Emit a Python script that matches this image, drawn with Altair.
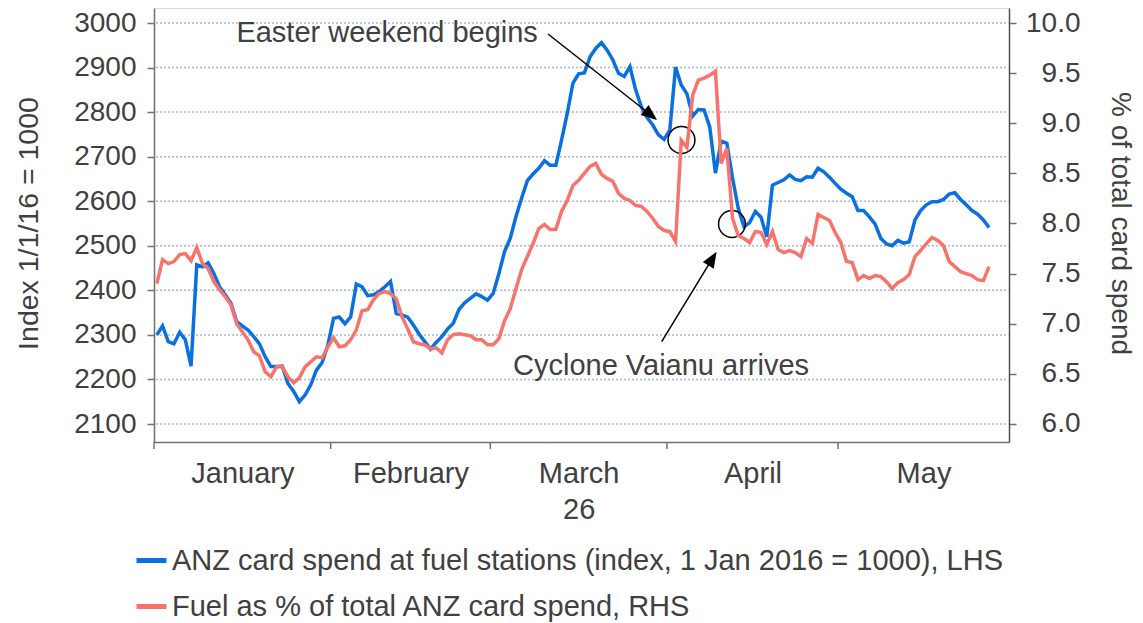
import altair as alt
import pandas as pd

# ---------------- data ----------------
anz_index = [2300, 2320, 2285, 2280, 2306, 2289, 2230, 2457, 2453, 2462,
             2438, 2408, 2390, 2371, 2330, 2320, 2311, 2296, 2280, 2251,
             2229, 2229, 2230, 2191, 2173, 2150, 2165, 2188, 2221, 2238,
             2277, 2337, 2340, 2325, 2340, 2414, 2408, 2388, 2390, 2397,
             2408, 2420, 2348, 2345, 2340, 2322, 2302, 2285, 2268, 2283,
             2296, 2313, 2326, 2357, 2372, 2382, 2392, 2386, 2378, 2393,
             2437, 2487, 2517, 2565, 2607, 2646, 2661, 2674, 2691, 2681,
             2681, 2737, 2797, 2865, 2886, 2888, 2924, 2943, 2956, 2939,
             2917, 2887, 2880, 2902, 2850, 2812, 2788, 2771, 2749, 2739,
             2760, 2901, 2861, 2841, 2791, 2806, 2805, 2767, 2663, 2735,
             2730, 2652, 2584, 2543, 2552, 2577, 2564, 2520, 2636, 2642,
             2648, 2659, 2649, 2646, 2655, 2654, 2674, 2666, 2654, 2640,
             2627, 2618, 2610, 2579, 2579, 2565, 2549, 2517, 2504, 2500,
             2512, 2506, 2509, 2558, 2579, 2592, 2599, 2599, 2604, 2616,
             2619, 2604, 2592, 2579, 2571, 2558, 2541]

fuel_share = [7.40, 7.64, 7.60, 7.62, 7.69, 7.70, 7.63, 7.76, 7.60, 7.55,
              7.42, 7.34, 7.27, 7.19, 7.00, 6.92, 6.84, 6.72, 6.68, 6.52,
              6.47, 6.57, 6.57, 6.47, 6.41, 6.46, 6.57, 6.62, 6.67, 6.66,
              6.77, 6.86, 6.77, 6.78, 6.84, 6.94, 7.13, 7.14, 7.24, 7.30,
              7.32, 7.30, 7.25, 7.07, 6.95, 6.82, 6.80, 6.79, 6.75, 6.76,
              6.71, 6.84, 6.89, 6.90, 6.89, 6.88, 6.84, 6.84, 6.79, 6.79,
              6.85, 7.03, 7.15, 7.35, 7.54, 7.67, 7.80, 7.95, 7.99, 7.94,
              7.94, 8.12, 8.23, 8.38, 8.43, 8.50, 8.57, 8.60, 8.49, 8.45,
              8.42, 8.30, 8.25, 8.23, 8.18, 8.17, 8.12, 8.05, 7.97, 7.93,
              7.92, 7.82, 8.83, 8.76, 9.28, 9.43, 9.45, 9.48, 9.52, 8.60,
              8.75, 8.05, 7.88, 7.85, 7.81, 7.92, 7.91, 7.79, 7.92, 7.74,
              7.71, 7.73, 7.71, 7.67, 7.85, 7.80, 8.09, 8.06, 8.03, 7.91,
              7.81, 7.62, 7.61, 7.44, 7.48, 7.45, 7.48, 7.47, 7.42, 7.35,
              7.41, 7.44, 7.49, 7.67, 7.73, 7.80, 7.86, 7.83, 7.78, 7.62,
              7.57, 7.52, 7.50, 7.48, 7.44, 7.43, 7.57]

series_names = ["ANZ card spend at fuel stations (index, 1 Jan 2016 = 1000), LHS",
                "Fuel as % of total ANZ card spend, RHS"]

left_ticks = [2100, 2200, 2300, 2400, 2500, 2600, 2700, 2800, 2900, 3000]
right_ticks = [6.0, 6.5, 7.0, 7.5, 8.0, 8.5, 9.0, 9.5, 10.0]

month_starts = ["2026-01-01T00:00:00", "2026-02-01T00:00:00", "2026-03-01T00:00:00",
                "2026-04-01T00:00:00", "2026-05-01T00:00:00"]

annot_labels = ["Easter weekend begins", "Cyclone Vaianu arrives"]
annot_dates = ["2026-02-10T21:36:00", "2026-03-30T22:48:00"]
annot_values = [2977.6, 2230.2]

arrow_start_dates = ["2026-03-11T03:00:00", "2026-03-31T01:40:00"]
arrow_start_values = [2975.3, 2284.7]
arrow_end_dates = ["2026-03-29T04:00:00", "2026-04-08T23:30:00"]
arrow_end_values = [2793.5, 2471.5]

circle_dates = ["2026-04-03T13:00:00", "2026-04-12T09:36:00"]
circle_values = [2737.4, 2548.9]

# ---------------- tables ----------------
n = len(anz_index)
dates = pd.date_range("2026-01-01 12:00", periods=n, freq="D")
df = pd.DataFrame({
    "date": list(dates) + list(dates),
    "value": anz_index + fuel_share,
    "series": [series_names[0]] * n + [series_names[1]] * n,
})
grid_df = pd.DataFrame({"value": left_ticks})
ticks_df = pd.DataFrame({"date": month_starts})
text_df = pd.DataFrame({"date": annot_dates, "value": annot_values, "label": annot_labels})
arrow_df = pd.DataFrame({"date": arrow_start_dates, "value": arrow_start_values,
                         "date2": arrow_end_dates, "value2": arrow_end_values})
head1_df = pd.DataFrame({"date": [arrow_end_dates[0]], "value": [arrow_end_values[0]]})
head2_df = pd.DataFrame({"date": [arrow_end_dates[1]], "value": [arrow_end_values[1]]})
circle_df = pd.DataFrame({"date": circle_dates, "value": circle_values})

# ---------------- styling ----------------
W, H = 855, 434
FONT = "Liberation Sans"
TXT = "#404040"
AX = "#707070"
BLUE = "#0a70e0"
RED = "#f8736b"
GRID = "#a9bccb"
ARROW_SHAPE = "M0,-1L0.8,1L-0.8,1Z"

x_scale = alt.Scale(domain=[alt.DateTime(year=2026, month=1, date=1),
                            alt.DateTime(year=2026, month=5, date=31)])
left_scale = alt.Scale(domain=[2059.6, 3033.7], nice=False, zero=False)
right_scale = alt.Scale(domain=[5.82, 10.15], nice=False, zero=False)

month_label_values = [alt.DateTime(year=2026, month=1, date=16, hours=12),
                      alt.DateTime(year=2026, month=2, date=15),
                      alt.DateTime(year=2026, month=3, date=16, hours=12),
                      alt.DateTime(year=2026, month=4, date=16),
                      alt.DateTime(year=2026, month=5, date=16)]

x_axis = alt.Axis(values=month_label_values, title=None, grid=False, ticks=False, tickSize=0,
                  labelExpr="month(datum.value) == 2 ? ['March', '26'] : timeFormat(datum.value, '%B')",
                  labelFontSize=29, labelPadding=17, labelLineHeight=36, labelColor=TXT,
                  labelAngle=0, labelFlush=False, labelOverlap=False, labelBaseline="top",
                  domainColor=AX, domainWidth=1.5)

left_axis = alt.Axis(title="Index 1/1/16 = 1000", values=left_ticks, format="d",
                     tickSize=7, tickColor=AX, tickWidth=1.5, domainColor=AX, domainWidth=1.5,
                     labelPadding=11, labelFontSize=28, labelColor=TXT, grid=False,
                     titleFontSize=28.5, titleFontWeight="normal", titleColor=TXT,
                     titleX=-126, titleY=215, titleAngle=-90, titleBaseline="middle", titleAlign="center")

right_axis = alt.Axis(orient="right", title="% of total card spend", values=right_ticks, format=".1f",
                      tickSize=7, tickColor=AX, tickWidth=1.5, domainColor="#505050", domainWidth=1.5,
                      labelPadding=64, labelAlign="right", labelFontSize=28, labelColor=TXT, grid=False,
                      titleFontSize=28, titleFontWeight="normal", titleColor=TXT,
                      titleX=110, titleY=215, titleAngle=90, titleBaseline="middle", titleAlign="center")

color = alt.Color("series:N",
                  scale=alt.Scale(domain=series_names, range=[BLUE, RED]),
                  legend=alt.Legend(title=None, orient="none", legendX=-20, legendY=535,
                                    direction="vertical", symbolType="stroke", symbolSize=900,
                                    symbolStrokeWidth=5, labelFontSize=29, labelColor=TXT,
                                    labelFont=FONT, labelOffset=3, rowPadding=13, padding=0,
                                    labelLimit=1200))

x_enc = alt.X("date:T", scale=x_scale)
y_left = alt.Y("value:Q", scale=left_scale)

gridlines = alt.Chart(grid_df).mark_rule(color=GRID, strokeWidth=1.5, strokeDash=[2, 2],
                                         opacity=1).encode(
    y=y_left,
    x=alt.value(2),
    x2=alt.value(W),
)

blue = alt.Chart(df).transform_filter(
    alt.datum.series == series_names[0]
).mark_line(strokeWidth=3.5).encode(
    x=alt.X("date:T", scale=x_scale, axis=x_axis),
    y=alt.Y("value:Q", scale=left_scale, axis=left_axis),
    color=color,
)

red = alt.Chart(df).transform_filter(
    alt.datum.series == series_names[1]
).mark_line(strokeWidth=3.5).encode(
    x=x_enc,
    y=alt.Y("value:Q", scale=right_scale, axis=right_axis),
    color=color,
)

month_ticks = alt.Chart(ticks_df).mark_rule(color=AX, strokeWidth=1.5).encode(
    x=x_enc,
    y=alt.value(H),
    y2=alt.value(H + 7),
)

texts = alt.Chart(text_df).mark_text(font=FONT, fontSize=29, color=TXT,
                                     align="center", baseline="middle").encode(
    x=x_enc, y=y_left, text="label:N",
)

arrows = alt.Chart(arrow_df).mark_rule(color="black", strokeWidth=1.5).encode(
    x=x_enc, x2="date2:T", y=y_left, y2="value2:Q",
)

head1 = alt.Chart(head1_df).mark_point(shape=ARROW_SHAPE, filled=True, color="black",
                                       size=256, angle=128.6, opacity=1).encode(x=x_enc, y=y_left)

head2 = alt.Chart(head2_df).mark_point(shape=ARROW_SHAPE, filled=True, color="black",
                                       size=256, angle=31.7, opacity=1).encode(x=x_enc, y=y_left)

circles = alt.Chart(circle_df).mark_point(shape="circle", filled=False, color="black",
                                          size=720, strokeWidth=1.5, opacity=1).encode(x=x_enc, y=y_left)

left_layer = alt.layer(gridlines, blue, month_ticks, texts, arrows, head1, head2, circles)

chart = alt.layer(left_layer, red).resolve_scale(y="independent").properties(
    width=W, height=H,
    autosize=alt.AutoSizeParams(type="none"),
    padding={"left": 146, "top": 0, "right": 126, "bottom": 180},
).configure_view(stroke=None).configure_axis(
    labelFont=FONT, titleFont=FONT
).configure(background="white")

chart.save("out.html", embed_options={"renderer": "svg", "actions": False})
